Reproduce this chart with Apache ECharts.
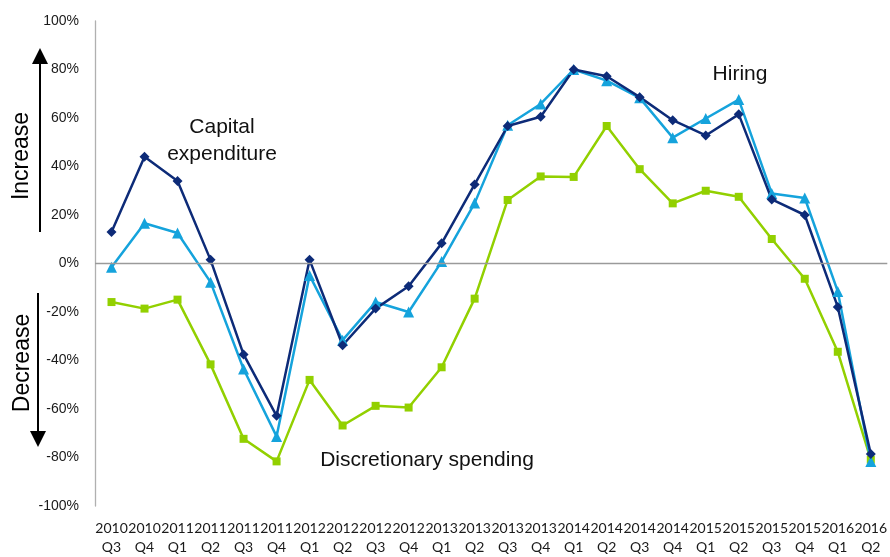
<!DOCTYPE html>
<html>
<head>
<meta charset="utf-8">
<script src="https://cdn.jsdelivr.net/npm/echarts@6/dist/echarts.min.js"></script>
<style>
  html, body { margin: 0; padding: 0; background: #fff; }
  #chart { width: 890px; height: 557px; }
</style>
</head>
<body>
<div id="chart"></div>
<script>
// Quarterly survey balance: share of firms reporting increase minus decrease (%)
const years = ['2010','2010','2011','2011','2011','2011','2012','2012','2012','2012','2013','2013','2013','2013','2014','2014','2014','2014','2015','2015','2015','2015','2016','2016'];
const quarters = ['Q3','Q4','Q1','Q2','Q3','Q4','Q1','Q2','Q3','Q4','Q1','Q2','Q3','Q4','Q1','Q2','Q3','Q4','Q1','Q2','Q3','Q4','Q1','Q2'];

const capitalExpenditure = [13, 44, 34, 1.5, -37.5, -62.8, 1.5, -33.7, -18.6, -9.4, 8.3, 32.6, 56.7, 60.5, 80, 77.2, 68.6, 59.1, 52.8, 61.5, 26.4, 20, -17.9, -78.6];
const hiring = [-1.5, 16.6, 12.6, -7.7, -43.5, -71.3, -4.9, -31.6, -15.9, -20, 0.8, 24.9, 57, 65.8, 80, 75.4, 68.3, 51.9, 59.8, 67.6, 28.9, 27, -11.5, -81.6];
const discretionarySpending = [-15.9, -18.6, -14.9, -41.6, -72.3, -81.6, -48, -66.8, -58.7, -59.4, -42.8, -14.5, 26.2, 35.9, 35.7, 56.7, 38.9, 24.8, 30, 27.5, 10.1, -6.3, -36.4, -80.9];

const yTicks = { min: -100, max: 100, step: 20 };

const categories = years.map((y, i) => y + '\n' + quarters[i]);

const chart = echarts.init(document.getElementById('chart'), null, { renderer: 'canvas' });

const labelFont = '"Liberation Sans", Arial, sans-serif';

function lineSeries(name, data, color, symbol, size) {
  return {
    name: name,
    type: 'line',
    data: data,
    symbol: symbol,
    symbolSize: size,
    showSymbol: true,
    lineStyle: { color: color, width: 2.5 },
    itemStyle: { color: color },
    z: 3,
    animation: false
  };
}

const series = [
  lineSeries('Discretionary spending', discretionarySpending, '#92d000', 'rect', 8),
  lineSeries('Hiring', hiring, '#15a3dc', 'triangle', 11),
  lineSeries('Capital expenditure', capitalExpenditure, '#0d2b78', 'diamond', 10)
];

// zero baseline
series[0].markLine = {
  silent: true,
  symbol: ['none', 'none'],
  label: { show: false },
  lineStyle: { color: '#9a9a9a', width: 1.3, type: 'solid' },
  data: [{ yAxis: 0 }],
  animation: false
};

const option = {
  backgroundColor: '#ffffff',
  animation: false,
  grid: { left: 95, right: 1, top: 21, bottom: 49, containLabel: false },
  xAxis: {
    type: 'category',
    data: categories,
    boundaryGap: true,
    axisLine: { show: false },
    axisTick: { show: false },
    axisLabel: {
      interval: 0,
      margin: 13,
      color: '#1a1a1a',
      fontFamily: 'Lato, "Open Sans", sans-serif',
      fontSize: 14,
      lineHeight: 19
    },
    splitLine: { show: false }
  },
  yAxis: {
    type: 'value',
    min: yTicks.min,
    max: yTicks.max,
    interval: yTicks.step,
    axisLine: { show: true, lineStyle: { color: '#b0b0b0', width: 1.3 } },
    axisTick: { show: false },
    splitLine: { show: false },
    axisLabel: {
      formatter: '{value}%',
      color: '#1a1a1a',
      fontFamily: labelFont,
      fontSize: 14,
      margin: 16
    }
  },
  series: series,
  graphic: [
    // Increase arrow
    { type: 'line', shape: { x1: 40, y1: 232, x2: 40, y2: 60 }, style: { stroke: '#000', lineWidth: 2 } },
    { type: 'polygon', shape: { points: [[40, 48], [32, 64], [48, 64]] }, style: { fill: '#000' } },
    // Decrease arrow
    { type: 'line', shape: { x1: 38, y1: 293, x2: 38, y2: 435 }, style: { stroke: '#000', lineWidth: 2 } },
    { type: 'polygon', shape: { points: [[38, 447], [30, 431], [46, 431]] }, style: { fill: '#000' } },
    {
      type: 'text', x: 22, y: 156, rotation: Math.PI / 2,
      style: { text: 'Increase', fill: '#000', font: '23px ' + labelFont, align: 'center', verticalAlign: 'middle' }
    },
    {
      type: 'text', x: 23, y: 363, rotation: Math.PI / 2,
      style: { text: 'Decrease', fill: '#000', font: '23px ' + labelFont, align: 'center', verticalAlign: 'middle' }
    },
    {
      type: 'text', x: 222, y: 141,
      style: { text: 'Capital\nexpenditure', fill: '#111', font: '21px ' + labelFont, align: 'center', verticalAlign: 'middle', lineHeight: 27 }
    },
    {
      type: 'text', x: 740, y: 74,
      style: { text: 'Hiring', fill: '#111', font: '21px ' + labelFont, align: 'center', verticalAlign: 'middle' }
    },
    {
      type: 'text', x: 427, y: 460,
      style: { text: 'Discretionary spending', fill: '#111', font: '21px ' + labelFont, align: 'center', verticalAlign: 'middle' }
    }
  ]
};

chart.setOption(option);
</script>
</body>
</html>
